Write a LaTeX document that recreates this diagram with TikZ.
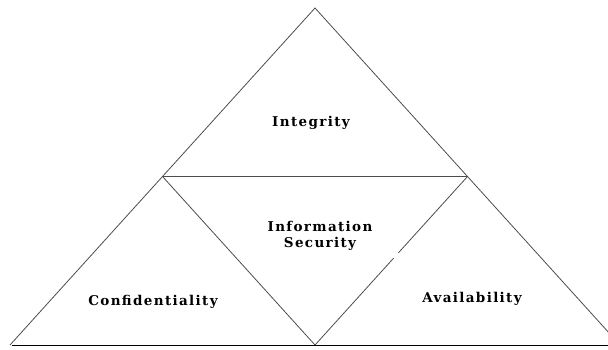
\documentclass[tikz,border=0pt]{standalone}
\usepackage{fontspec}
\newfontfamily\labelfont{DejaVu Serif}[LetterSpace=10]
\usetikzlibrary{calc}

\tikzset{
	side/.style={line width=0.8pt,black!70},
	base/.style={line width=1pt,black},
	lbl/.style={font=\labelfont\bfseries\fontsize{13.5}{16}\selectfont,align=center,inner sep=0pt}
}

\begin{document}
\begin{tikzpicture}[x=1pt,y=-1pt]
	\useasboundingbox (0,0) rectangle (608,349);
	\clip (0,0) rectangle (608,349);
	% corners of the big triangle
	\coordinate (top) at (315,8);
	\coordinate (left) at (10,345);
	\coordinate (right) at (620,345);
	\coordinate (bot) at ($(left)!0.5!(right)$);
	\coordinate (lmid) at ($(left)!0.5!(top)$);
	\coordinate (rmid) at ($(right)!0.5!(top)$);
	\draw[side] (left) -- (top) -- (right);
	\draw[side] (lmid) -- (rmid);
	\draw[side] (lmid) -- (bot) -- ($(bot)!0.515!(rmid)$);
	\draw[side] ($(bot)!0.547!(rmid)$) -- (rmid);
	\draw[base] (12,345) -- (608,345);
	% labels
	\node[lbl] (integ) at (311,123) {Integrity};
	\node[lbl] (infosec) at (320,236) {Information\\Security};
	\node[lbl] (conf) at (153,302) {Confidentiality};
	\node[lbl] (avail) at (472,299) {Availability};
\end{tikzpicture}
\end{document}
